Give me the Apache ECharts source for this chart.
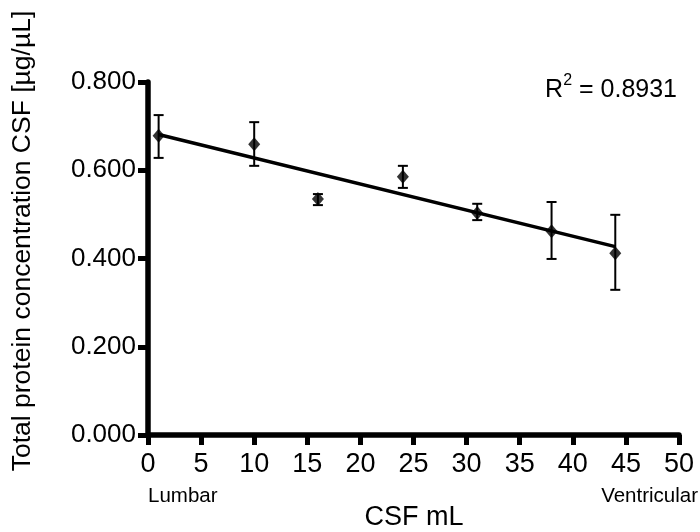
<!DOCTYPE html>
<html>
<head>
<meta charset="utf-8">
<script src="https://cdn.jsdelivr.net/npm/echarts@6/dist/echarts.min.js"></script>
<style>html,body{margin:0;padding:0;background:#fff}#c{width:700px;height:532px}</style>
</head>
<body>
<div id="c"></div>
<script>
var xValues = [1, 10, 16, 24, 31, 38, 44];
var means = [0.678, 0.659, 0.535, 0.585, 0.503, 0.462, 0.412];
var errLow = [0.628, 0.610, 0.521, 0.560, 0.487, 0.399, 0.329];
var errHigh = [0.725, 0.709, 0.546, 0.610, 0.524, 0.528, 0.499];
var fitLine = [[1, 0.681], [44, 0.427]];
var rSquared = '0.8931';

var FONT = 'Liberation Sans, Arial, sans-serif';
var chart = echarts.init(document.getElementById('c'));

var scatterData = xValues.map(function (x, i) { return [x, means[i]]; });
var errData = xValues.map(function (x, i) { return [x, errLow[i], errHigh[i]]; });

chart.setOption({
  animation: false,
  grid: { left: 148, right: 21, top: 82, bottom: 97 },
  xAxis: {
    type: 'value', min: 0, max: 50, interval: 5,
    axisLine: { lineStyle: { color: '#000', width: 5.5 } },
    axisTick: { length: 10, lineStyle: { color: '#000', width: 5 } },
    axisLabel: { color: '#000', fontSize: 27, fontFamily: FONT, margin: 16 },
    splitLine: { show: false }
  },
  yAxis: {
    type: 'value', min: 0, max: 0.8, interval: 0.2,
    axisLine: { show: true, lineStyle: { color: '#000', width: 5.5 } },
    axisTick: { show: true, length: 10, lineStyle: { color: '#000', width: 5 } },
    axisLabel: { color: '#000', fontSize: 26, fontFamily: FONT, margin: 12,
      formatter: function (v) { return v.toFixed(3); } },
    splitLine: { show: false }
  },
  graphic: [
    { type: 'text', position: [23, 241], rotation: Math.PI / 2,
      style: { text: 'Total protein concentration CSF [µg/µL]', fill: '#000', fontSize: 26.5,
        fontFamily: FONT, align: 'center', verticalAlign: 'middle' } },
    { type: 'text', position: [414, 518],
      style: { text: 'CSF mL', fill: '#000', fontSize: 27, fontFamily: FONT, align: 'center', verticalAlign: 'middle' } },
    { type: 'text', position: [148, 496],
      style: { text: 'Lumbar', fill: '#000', fontSize: 20.5, fontFamily: FONT, align: 'left', verticalAlign: 'middle' } },
    { type: 'text', position: [698, 496],
      style: { text: 'Ventricular', fill: '#000', fontSize: 20.5, fontFamily: FONT, align: 'right', verticalAlign: 'middle' } },
    { type: 'text', position: [677, 88],
      style: { text: '{r|R}{s|2}{r| = ' + rSquared + '}', align: 'right', verticalAlign: 'middle',
        rich: {
          r: { fontSize: 25, fontFamily: FONT, fill: '#000', verticalAlign: 'bottom', lineHeight: 30 },
          s: { fontSize: 16, fontFamily: FONT, fill: '#000', verticalAlign: 'top', lineHeight: 30, padding: [0, 0, 12, 0] }
        } } }
  ],
  series: [
    {
      type: 'line', data: fitLine, symbol: 'none', z: 3,
      lineStyle: { color: '#000', width: 3.5 }
    },
    {
      type: 'custom', data: errData, z: 4,
      renderItem: function (params, api) {
        var x = api.value(0);
        var lo = api.coord([x, api.value(1)]);
        var hi = api.coord([x, api.value(2)]);
        var hw = 5;
        var st = { stroke: '#000', lineWidth: 2 };
        return {
          type: 'group',
          children: [
            { type: 'line', shape: { x1: lo[0], y1: lo[1], x2: hi[0], y2: hi[1] }, style: st },
            { type: 'line', shape: { x1: lo[0] - hw, y1: lo[1], x2: lo[0] + hw, y2: lo[1] }, style: st },
            { type: 'line', shape: { x1: hi[0] - hw, y1: hi[1], x2: hi[0] + hw, y2: hi[1] }, style: st }
          ]
        };
      }
    },
    {
      type: 'scatter', data: scatterData, symbol: 'diamond', symbolSize: [12, 14], z: 5,
      itemStyle: { color: '#000' }
    }
  ]
});
</script>
</body>
</html>
